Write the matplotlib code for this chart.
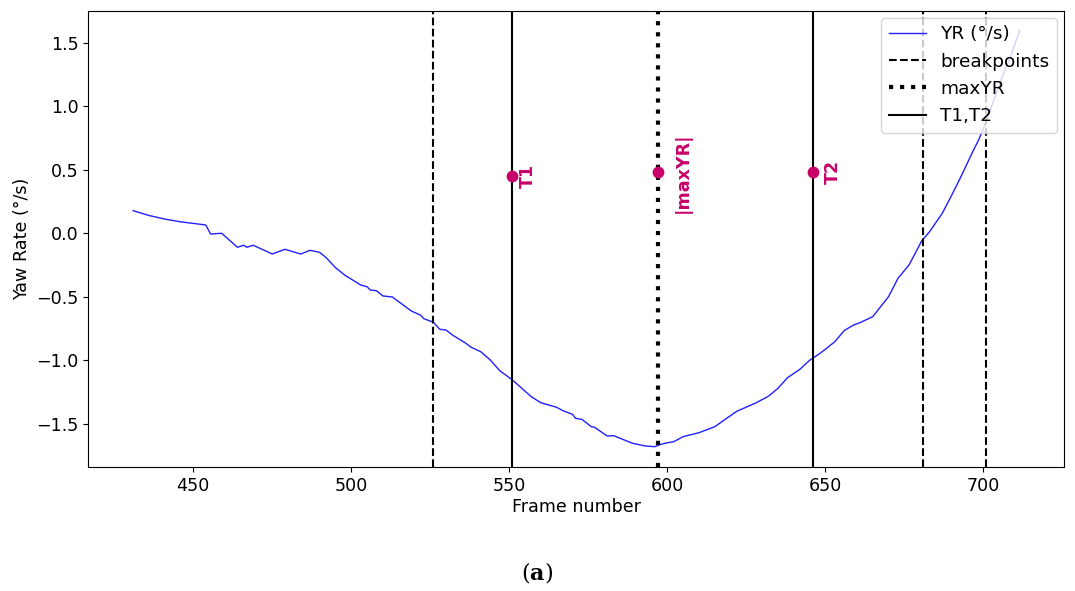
import matplotlib
matplotlib.use("Agg")
import matplotlib.pyplot as plt

plt.rcParams['font.size'] = 12.6

# yaw rate trace
frames = [431, 436, 441, 446, 450, 454, 455.5, 459, 464, 466, 467, 469, 475, 479,
          484, 487, 490, 492, 495, 498, 503, 505, 506, 508, 510, 513, 516, 519,
          522, 523, 526, 528, 530, 532, 536, 537, 538, 541, 544, 547, 551, 554,
          557, 560, 565, 567, 570, 571, 573, 576, 577, 581, 583, 589, 593, 596,
          598, 600, 602, 605, 610, 615, 622, 628, 632, 635, 638, 642, 645, 648,
          650, 653, 656, 659, 661, 665, 670, 673, 676.5, 680.5, 683, 687, 690,
          693, 697, 698.5, 700.5, 706, 709, 711.5]
yaw_rate = [0.178, 0.14, 0.112, 0.09, 0.078, 0.065, -0.006, 0.0, -0.11, -0.094,
            -0.11, -0.094, -0.163, -0.126, -0.163, -0.134, -0.15, -0.19, -0.27,
            -0.33, -0.407, -0.42, -0.446, -0.452, -0.493, -0.501, -0.556, -0.611,
            -0.645, -0.672, -0.70, -0.755, -0.761, -0.80, -0.861, -0.879, -0.897,
            -0.932, -0.997, -1.081, -1.154, -1.22, -1.286, -1.333, -1.369, -1.396,
            -1.424, -1.456, -1.464, -1.522, -1.526, -1.595, -1.592, -1.652, -1.673,
            -1.679, -1.66, -1.648, -1.64, -1.60, -1.569, -1.522, -1.40, -1.335,
            -1.282, -1.22, -1.137, -1.069, -1.0, -0.95, -0.913, -0.853, -0.765,
            -0.721, -0.703, -0.656, -0.499, -0.354, -0.249, -0.06, 0.013, 0.157,
            0.30, 0.45, 0.66, 0.734, 0.852, 1.232, 1.416, 1.594]

breakpoints = [526, 681, 701]
max_yr = 597
t1, t2 = 551, 646
marker_y = [0.45, 0.48, 0.48]
marker_lbl = ['T1', '|maxYR|', 'T2']
lbl_dx = [5, 8, 6.5]

pink = '#c8006a'

fig = plt.figure(figsize=(10.75, 5.91), dpi=100)
ax = fig.add_axes([0.0821, 0.2093, 0.9079, 0.7726])

ax.plot(frames, yaw_rate, color='#2020ff', lw=1, label='YR (°/s)')
for i, b in enumerate(breakpoints):
    ax.axvline(b, color='black', ls='--', lw=1.5, label='breakpoints' if i == 0 else None)
ax.axvline(max_yr, color='black', ls=':', lw=3, label='maxYR')
ax.axvline(t1, color='black', ls='-', lw=1.5, label='T1,T2')
ax.axvline(t2, color='black', ls='-', lw=1.5)

for x, y, s, dx in zip([t1, max_yr, t2], marker_y, marker_lbl, lbl_dx):
    ax.plot(x, y, 'o', color=pink, ms=7.5)
    ax.text(x + dx, y, s, color=pink, rotation=90, ha='center', va='center',
            fontweight='bold', fontsize=12.6)

ax.set_xlim(416.8, 725.6)
ax.set_ylim(-1.841, 1.751)
ax.set_xlabel('Frame number', labelpad=2)
ax.set_ylabel('Yaw Rate (°/s)')
ax.legend(loc='upper right', fontsize=13.3, borderaxespad=0.4)

fig.text(0.5, 0.032, r'($\mathbf{a}$)', ha='center', va='center', fontsize=16,
         family='DejaVu Serif', math_fontfamily='dejavuserif')

fig.savefig('out.png', dpi=100)
